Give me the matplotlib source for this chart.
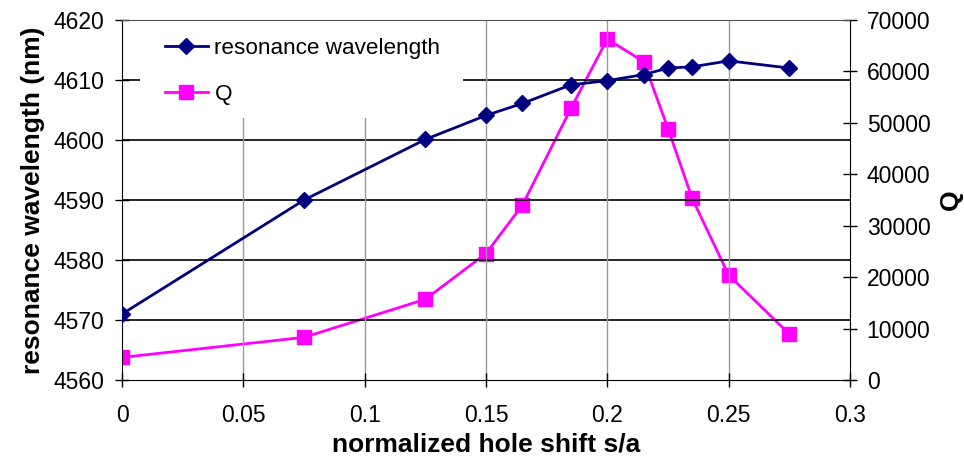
import matplotlib
matplotlib.use("Agg")
import matplotlib.pyplot as plt
from matplotlib.patches import Rectangle

plt.rcParams['font.family'] = ['Liberation Sans', 'DejaVu Sans']

x = [0, 0.075, 0.125, 0.15, 0.165, 0.185, 0.2, 0.215, 0.225, 0.235, 0.25, 0.275]
wavelength = [4571, 4590, 4600.1, 4604.1, 4606.1, 4609.2, 4609.9, 4610.9, 4612, 4612.2, 4613.2, 4612]
Q = [4400, 8300, 15700, 24600, 34000, 52800, 66300, 61900, 48900, 35300, 20400, 8950]

xticks = [0, 0.05, 0.1, 0.15, 0.2, 0.25, 0.3]
xticklabels = ['0', '0.05', '0.1', '0.15', '0.2', '0.25', '0.3']
yticks = [4560, 4570, 4580, 4590, 4600, 4610, 4620]
y2ticks = [0, 10000, 20000, 30000, 40000, 50000, 60000, 70000]

fig = plt.figure(figsize=(9.64, 4.66), dpi=100)
ax = fig.add_axes([0.1266, 0.1845, 0.7551, 0.7725])
ax2 = ax.twinx()

ax.set_xlim(0, 0.3)
ax.set_ylim(4560, 4620)
ax2.set_ylim(0, 70000)

ax.set_xticks(xticks)
ax.set_xticklabels(xticklabels)
ax.set_yticks(yticks)
ax2.set_yticks(y2ticks)

# gridlines
for yy in yticks[1:-1]:
    ax.axhline(yy, color='black', lw=1.2, zorder=1)
for xx in xticks[1:-1]:
    ax.axvline(xx, color='#999999', lw=1.0, zorder=1)

for a in (ax, ax2):
    for s in a.spines.values():
        s.set_visible(False)
ax.spines['left'].set_visible(True)
ax.spines['left'].set_color('black')
ax.spines['bottom'].set_visible(True)
ax.spines['bottom'].set_color('black')
ax.spines['bottom'].set_linestyle((0, (3, 1)))
ax2.spines['right'].set_visible(True)
ax2.spines['right'].set_color('black')
ax2.spines['right'].set_linestyle((0, (3, 1)))
ax.spines['top'].set_visible(True)
ax.spines['top'].set_color('#555555')
ax.spines['top'].set_linestyle((0, (3, 1)))

ax.tick_params(axis='y', direction='inout', length=10, width=1, labelsize=16.5, pad=8, color='black')
ax.tick_params(axis='x', direction='inout', length=10, width=1, labelsize=16.5, pad=12, color='black')
ax2.tick_params(axis='y', direction='inout', length=10, width=1, labelsize=16.5, pad=7)

l1, = ax.plot(x, wavelength, color='#000080', marker='D', markersize=8, lw=2, label='resonance wavelength', zorder=5)
l2, = ax2.plot(x, Q, color='#FF00FF', marker='s', markersize=10, lw=2, label='Q', zorder=5)

ax.set_ylabel('resonance wavelength (nm)', fontsize=19, fontweight='bold', labelpad=6)
ax2.set_ylabel('Q', fontsize=19, fontweight='bold', labelpad=6)
ax.set_xlabel('normalized hole shift s/a', fontsize=19, fontweight='bold', labelpad=4)

ax.set_zorder(ax2.get_zorder() + 1)
ax.patch.set_visible(False)

# white legend background box
ax.add_patch(Rectangle((0.0247, 0.7278), 0.4437, 0.2722, transform=ax.transAxes,
                       facecolor='white', edgecolor='none', zorder=2))

leg = ax.legend([l1, l2], ['resonance wavelength', 'Q'], loc='upper left',
                bbox_to_anchor=(0.059, 0.951), frameon=False, fontsize=16.2,
                handlelength=1.9, borderpad=0.0, labelspacing=1.12, handletextpad=0.3,
                borderaxespad=0.0)
leg.set_zorder(3)

fig.savefig('out.png', dpi=100)
